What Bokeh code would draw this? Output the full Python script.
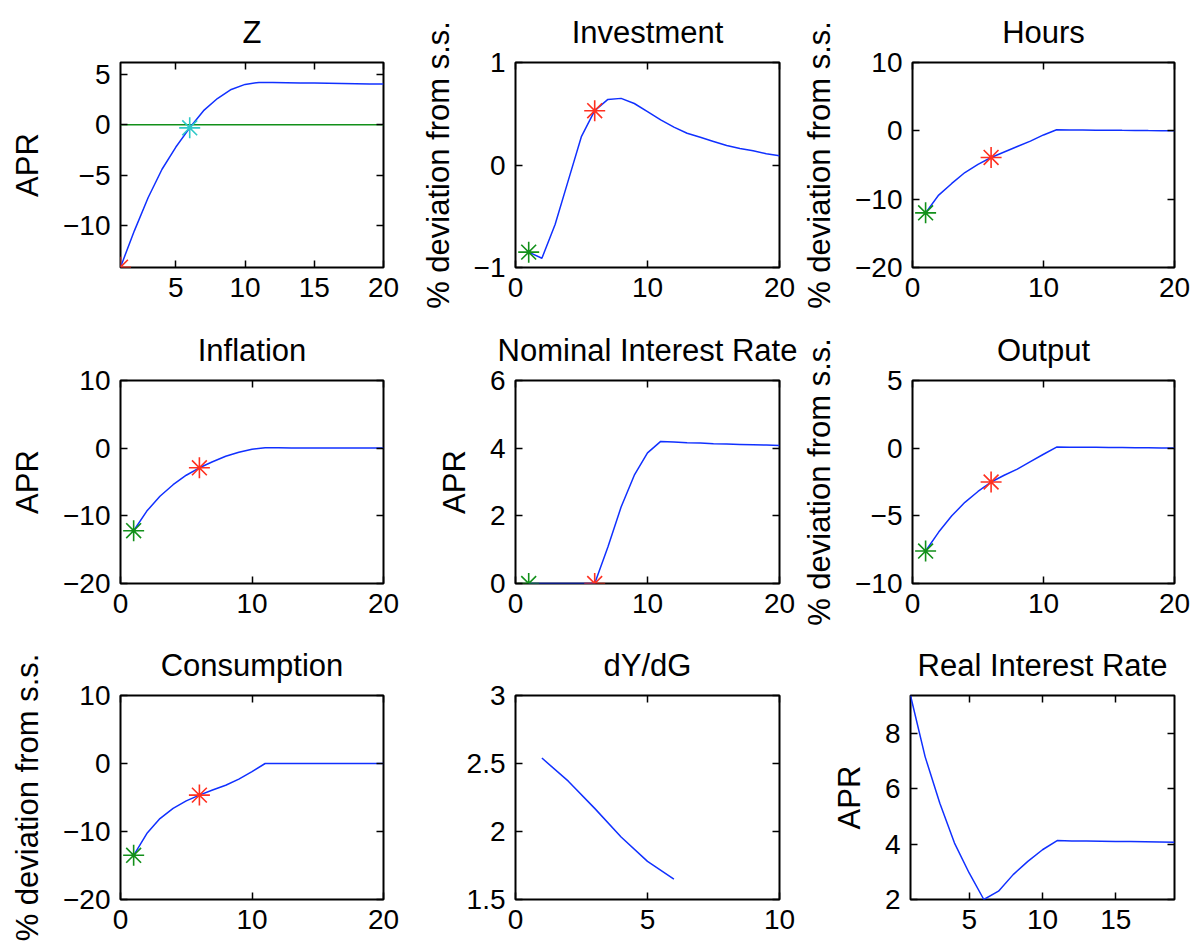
from bokeh.plotting import figure
from bokeh.layouts import column, row
from bokeh.models import FixedTicker, LinearAxis, Range1d
from bokeh.embed import file_html
from bokeh.resources import INLINE

# ---------------- data ----------------
periods = list(range(1, 21))
z_apr = [-14.1, -10.5, -7.2, -4.4, -2.2, -0.3, 1.4, 2.6, 3.5, 4.0,
         4.2, 4.19, 4.17, 4.15, 4.13, 4.11, 4.09, 4.07, 4.05, 4.03]
z_bound = [0.0, 0.0, 0.0, 0.0, 0.0, 0.0, 0.0, 0.0, 0.0, 0.0,
           0.0, 0.0, 0.0, 0.0, 0.0, 0.0, 0.0, 0.0, 0.0, 0.0]
investment = [-0.85, -0.91, -0.58, -0.15, 0.28, 0.53, 0.64, 0.65, 0.60, 0.52,
              0.44, 0.37, 0.31, 0.27, 0.23, 0.19, 0.16, 0.14, 0.11, 0.09]
hours = [-12.0, -9.4, -7.7, -6.1, -4.9, -3.9, -3.1, -2.3, -1.5, -0.6,
         0.15, 0.13, 0.12, 0.10, 0.09, 0.07, 0.06, 0.04, 0.03, 0.01]
inflation = [-12.2, -9.3, -7.1, -5.4, -4.0, -2.9, -2.0, -1.2, -0.6, -0.15,
             0.05, 0.05, 0.04, 0.04, 0.03, 0.03, 0.02, 0.02, 0.01, 0.01]
nominal_rate = [0.0, 0.0, 0.0, 0.0, 0.0, 0.0, 1.08, 2.26, 3.2, 3.86,
                4.2, 4.18, 4.16, 4.15, 4.13, 4.12, 4.11, 4.10, 4.09, 4.08]
output = [-7.6, -6.2, -5.0, -4.0, -3.2, -2.5, -2.0, -1.55, -1.0, -0.45,
          0.08, 0.07, 0.07, 0.06, 0.05, 0.05, 0.04, 0.03, 0.02, 0.02]
consumption = [-13.5, -10.3, -8.1, -6.6, -5.5, -4.65, -3.9, -3.2, -2.3, -1.2,
               0.0, 0.0, 0.0, 0.0, 0.0, 0.0, 0.0, 0.0, 0.0, 0.0]
dydg_periods = [1, 2, 3, 4, 5, 6]
dydg = [2.54, 2.37, 2.17, 1.96, 1.78, 1.65]
real_periods = list(range(1, 20))
real_rate = [9.38, 7.16, 5.48, 4.04, 2.96, 2.0, 2.3, 2.9, 3.38, 3.8,
             4.13, 4.12, 4.12, 4.11, 4.10, 4.10, 4.09, 4.08, 4.07]

FONT = "Liberation Sans"
BLUE = "#1030ff"
DGREEN = "#12901a"
RED = "#ff3020"
CYAN = "#2ec8c8"
TICK_FS = "28px"
LABEL_FS = "31px"
TITLE_FS = "31px"


def fmt(v):
    s = "%g" % abs(v)
    return ("\u2212" + s) if v < 0 else s


def style_axis(ax, ticks, show_labels=True):
    ax.ticker = FixedTicker(ticks=ticks)
    ax.major_tick_in = 7
    ax.major_tick_out = 0
    ax.minor_tick_line_color = None
    ax.axis_line_color = None
    ax.major_tick_line_color = "black"
    ax.major_tick_line_width = 1.5
    if show_labels:
        ax.major_label_overrides = {t: fmt(t) for t in ticks}
        ax.major_label_text_font = FONT
        ax.major_label_text_font_size = TICK_FS
        ax.major_label_text_color = "black"
    else:
        ax.major_label_text_font_size = "1px"
        ax.major_label_text_color = None
        ax.major_label_standoff = 0


def panel(title, ylabel, xr, yr, xticks, yticks, w, h, bl, br, bt, bb):
    p = figure(width=w, height=h, x_range=Range1d(*xr), y_range=Range1d(*yr),
               output_backend="svg", toolbar_location=None, tools="",
               min_border_left=bl, min_border_right=br,
               min_border_top=bt, min_border_bottom=bb, title=title)
    p.grid.visible = False
    p.outline_line_color = "black"
    p.outline_line_width = 2
    p.background_fill_color = "white"
    p.border_fill_color = "white"
    p.title.text_font = FONT
    p.title.text_font_size = TITLE_FS
    p.title.text_font_style = "normal"
    p.title.text_color = "black"
    p.title.align = "center"
    p.title.standoff = 25
    style_axis(p.xaxis[0], xticks)
    style_axis(p.yaxis[0], yticks)
    p.xaxis[0].major_label_standoff = 10
    p.yaxis[0].major_label_standoff = 10
    if ylabel:
        p.yaxis[0].axis_label = ylabel
        p.yaxis[0].axis_label_text_font = FONT
        p.yaxis[0].axis_label_text_font_size = LABEL_FS
        p.yaxis[0].axis_label_text_font_style = "normal"
        p.yaxis[0].axis_label_text_color = "black"
        p.yaxis[0].axis_label_standoff = 15
    top = LinearAxis()
    style_axis(top, xticks, show_labels=False)
    p.add_layout(top, "above")
    right = LinearAxis()
    style_axis(right, yticks, show_labels=False)
    p.add_layout(right, "right")
    return p


def stars(p, xs, ys, color):
    p.scatter(xs, ys, marker="asterisk", size=21, line_color=color, line_width=1.6)


# column geometry: (width, min_border_left, min_border_right)
C = [(403, 120, 20), (396, 112, 20), (396, 111, 21)]
# row geometry: (height, min_border_top, min_border_bottom)
R = [(317, 62, 50), (316, 63, 50), (310, 62, 44)]

APR = "APR"
DEV = "% deviation from s.s."

# Row 1
p1 = panel("Z", APR, (1, 20), (-14.13, 6.17), [5, 10, 15, 20], [-10, -5, 0, 5], C[0][0], R[0][0], C[0][1], C[0][2], R[0][1], R[0][2])
p1.line(periods, z_bound, line_color=DGREEN, line_width=1.6)
p1.line(periods, z_apr, line_color=BLUE, line_width=1.5)
stars(p1, [periods[0]], [z_apr[0]], RED)
stars(p1, [periods[5]], [z_apr[5]], CYAN)

p2 = panel("Investment", DEV, (0, 20), (-1, 1), [0, 10, 20], [-1, 0, 1], C[1][0], R[0][0], C[1][1], C[1][2], R[0][1], R[0][2])
p2.line(periods, investment, line_color=BLUE, line_width=1.5)
stars(p2, [periods[0]], [investment[0]], DGREEN)
stars(p2, [periods[5]], [investment[5]], RED)

p3 = panel("Hours", DEV, (0, 20), (-20, 10), [0, 10, 20], [-20, -10, 0, 10], C[2][0], R[0][0], C[2][1], C[2][2], R[0][1], R[0][2])
p3.line(periods, hours, line_color=BLUE, line_width=1.5)
stars(p3, [periods[0]], [hours[0]], DGREEN)
stars(p3, [periods[5]], [hours[5]], RED)

# Row 2
p4 = panel("Inflation", APR, (0, 20), (-20, 10), [0, 10, 20], [-20, -10, 0, 10], C[0][0], R[1][0], C[0][1], C[0][2], R[1][1], R[1][2])
p4.line(periods, inflation, line_color=BLUE, line_width=1.5)
stars(p4, [periods[0]], [inflation[0]], DGREEN)
stars(p4, [periods[5]], [inflation[5]], RED)

p5 = panel("Nominal Interest Rate", APR, (0, 20), (0, 6), [0, 10, 20], [0, 2, 4, 6], C[1][0], R[1][0], C[1][1], C[1][2], R[1][1], R[1][2])
p5.line(periods, nominal_rate, line_color=BLUE, line_width=1.5)
stars(p5, [periods[0]], [nominal_rate[0]], DGREEN)
stars(p5, [periods[5]], [nominal_rate[5]], RED)

p6 = panel("Output", DEV, (0, 20), (-10, 5), [0, 10, 20], [-10, -5, 0, 5], C[2][0], R[1][0], C[2][1], C[2][2], R[1][1], R[1][2])
p6.line(periods, output, line_color=BLUE, line_width=1.5)
stars(p6, [periods[0]], [output[0]], DGREEN)
stars(p6, [periods[5]], [output[5]], RED)

# Row 3
p7 = panel("Consumption", DEV, (0, 20), (-20, 10), [0, 10, 20], [-20, -10, 0, 10], C[0][0], R[2][0], C[0][1], C[0][2], R[2][1], R[2][2])
p7.line(periods, consumption, line_color=BLUE, line_width=1.5)
stars(p7, [periods[0]], [consumption[0]], DGREEN)
stars(p7, [periods[5]], [consumption[5]], RED)

p8 = panel("dY/dG", None, (0, 10), (1.5, 3), [0, 5, 10], [1.5, 2, 2.5, 3], C[1][0], R[2][0], C[1][1], C[1][2], R[2][1], R[2][2])
p8.line(dydg_periods, dydg, line_color=BLUE, line_width=1.5)

p9 = panel("Real Interest Rate", APR, (1, 19), (2, 9.38), [5, 10, 15], [2, 4, 6, 8], C[2][0], R[2][0], C[2][1], C[2][2], R[2][1], R[2][2])
p9.line(real_periods, real_rate, line_color=BLUE, line_width=1.5)

layout = column(row(p1, p2, p3), row(p4, p5, p6), row(p7, p8, p9))

with open("out.html", "w") as f:
    f.write(file_html(layout, INLINE))
